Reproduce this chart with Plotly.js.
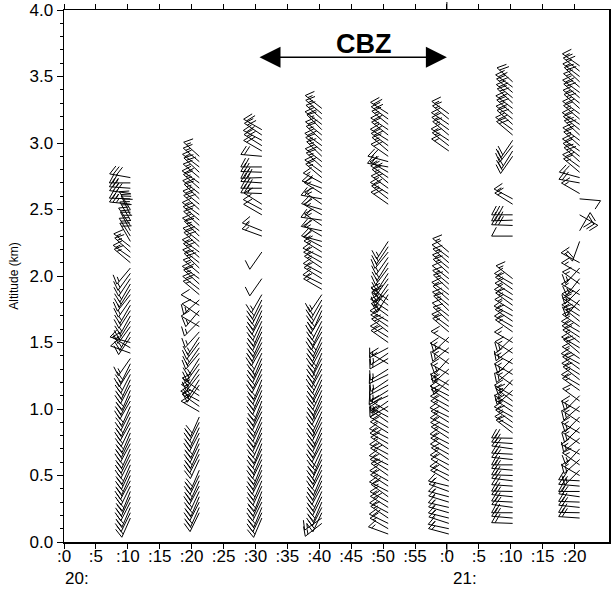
<!DOCTYPE html>
<html><head><meta charset="utf-8">
<script src="https://cdn.plot.ly/plotly-3.0.1.min.js"></script>
<style>html,body{margin:0;padding:0;background:#fff}</style>
</head><body><div id="chart" style="width:611px;height:590px"></div>
<script>
const _ = null;
// range gates (km)
const GATES = [0.06,0.10,0.14,0.18,0.22,0.26,0.30,0.34,0.38,0.42,
0.46,0.50,0.54,0.58,0.62,0.66,0.70,0.74,0.78,0.82,
0.86,0.90,0.94,0.98,1.02,1.06,1.10,1.14,1.18,1.22,
1.26,1.30,1.34,1.38,1.42,1.46,1.50,1.54,1.58,1.62,
1.66,1.70,1.74,1.78,1.82,1.86,1.90,1.94,1.98,2.02,
2.06,2.10,2.14,2.18,2.22,2.26,2.30,2.34,2.38,2.42,
2.46,2.50,2.54,2.58,2.62,2.66,2.70,2.74,2.78,2.82,
2.86,2.90,2.94,2.98,3.02,3.06,3.10,3.14,3.18,3.22,
3.26,3.30,3.34,3.38,3.42,3.46,3.50,3.54,3.58,3.62];
// profile times (minutes after 20:00)
const TIMES = [10.4, 21.2, 31.0, 40.4, 50.8, 60.3, 70.3, 80.8];

const DIR_1 = [_,_,_,204,206,203,207,205,202,206,
208,204,205,203,207,206,204,208,205,203,
206,209,205,207,204,210,206,203,208,205,
207,212,206,215,290,300,285,214,210,216,
212,209,213,210,215,218,212,210,214,216,
220,310,305,312,308,330,328,332,326,330,
334,328,276,272,278,274,270,280,_,_,
_,_,_,_,_,_,_,_,_,_,
_,_,_,_,_,_,_,_,_,_];
const SPD_1 = [_,_,_,20,20,20,20,20,20,20,
20,20,20,20,20,20,20,20,20,20,
20,20,20,15,20,20,20,20,20,20,
20,15,20,15,10,15,10,15,15,15,
15,15,15,15,15,15,15,15,15,15,
15,15,15,15,15,20,20,20,20,20,
20,20,25,25,30,25,25,30,_,_,
_,_,_,_,_,_,_,_,_,_,
_,_,_,_,_,_,_,_,_,_];

const DIR_2 = [_,_,_,_,206,204,207,203,205,208,
204,206,203,_,205,207,204,206,203,208,
205,207,204,300,305,298,302,306,215,212,
218,214,216,212,220,215,217,213,222,300,
225,305,220,300,228,310,308,312,306,310,
314,308,311,306,313,309,315,307,312,310,
306,312,309,314,308,311,305,310,313,307,
310,312,_,_,_,_,_,_,_,_,
_,_,_,_,_,_,_,_,_,_];
const SPD_2 = [_,_,_,_,20,20,20,20,20,20,
20,20,20,_,20,20,20,20,20,20,
20,20,20,15,15,15,15,15,15,15,
15,15,15,15,15,15,15,15,15,10,
15,10,15,10,15,15,20,15,20,15,
20,15,20,15,20,20,15,20,15,20,
15,20,20,15,20,15,20,15,20,15,
15,15,_,_,_,_,_,_,_,_,
_,_,_,_,_,_,_,_,_,_];

const DIR_3 = [_,_,_,203,205,202,206,204,201,205,
203,207,204,202,206,203,205,201,204,206,
202,205,203,207,204,201,206,203,205,202,
208,204,206,203,205,210,207,204,206,203,
205,208,204,207,206,210,_,_,215,_,
_,_,_,215,_,_,290,292,_,_,
300,298,302,_,272,270,274,268,272,270,
_,275,300,302,298,304,300,_,_,_,
_,_,_,_,_,_,_,_,_,_];
const SPD_3 = [_,_,_,20,20,20,20,20,20,20,
20,20,20,20,20,20,20,20,20,20,
20,20,20,20,20,20,20,20,20,20,
20,20,25,20,20,20,20,20,20,20,
20,20,20,20,15,15,_,_,10,_,
_,_,_,10,_,_,15,15,_,_,
10,10,10,_,25,30,25,30,25,20,
_,20,20,20,20,20,20,_,_,_,
_,_,_,_,_,_,_,_,_,_];

const DIR_4 = [_,_,232,235,205,207,203,206,204,208,
205,203,207,204,206,202,205,208,204,206,
203,207,205,204,208,206,203,205,207,204,
206,209,205,207,203,208,206,204,210,205,
207,212,204,208,210,214,300,296,302,298,
304,300,296,302,298,285,300,282,304,278,
300,286,305,280,302,290,298,310,306,312,
308,314,310,306,312,309,315,307,311,310,
308,_,_,_,_,_,_,_,_,_];
const SPD_4 = [_,_,15,15,20,20,20,20,20,20,
20,20,25,20,20,25,20,20,20,25,
20,25,20,20,25,20,20,25,20,20,
25,20,25,20,25,20,20,25,20,20,
20,20,20,20,20,15,15,15,15,15,
15,15,15,15,15,20,15,20,15,20,
15,20,15,20,15,20,15,15,20,15,
20,15,15,20,15,20,15,20,15,15,
15,_,_,_,_,_,_,_,_,_];

const DIR_5 = [290,300,296,304,298,302,300,306,297,303,
299,305,301,296,303,298,304,300,297,302,
300,305,298,302,240,235,245,238,242,236,
244,238,300,240,236,242,305,302,308,304,
300,306,303,309,305,212,218,214,216,213,
217,212,215,219,214,213,_,_,_,_,
_,_,305,308,302,306,310,304,300,280,
285,305,310,306,302,308,304,309,306,303,
_,_,_,_,_,_,_,_,_,_];
const SPD_5 = [15,15,20,15,15,20,15,15,20,15,
15,20,15,15,20,15,15,20,15,15,
20,15,15,20,15,15,15,15,15,15,
15,15,15,15,15,15,20,15,20,15,
20,15,20,15,20,15,15,15,15,15,
15,15,15,15,15,15,_,_,_,_,
_,_,20,15,20,20,15,20,15,20,
20,20,15,20,20,15,20,15,20,20,
_,_,_,_,_,_,_,_,_,_];

const DIR_6 = [285,282,288,284,286,283,287,285,290,284,
300,296,302,298,304,299,301,297,303,300,
298,302,296,301,299,303,297,302,300,225,
300,228,305,222,298,230,302,226,310,306,
312,308,314,309,311,306,313,310,308,312,
309,311,307,310,_,_,_,_,_,_,
_,_,_,_,_,_,_,_,_,_,
_,_,305,308,303,310,306,304,309,306,
_,_,_,_,_,_,_,_,_,_];
const SPD_6 = [15,15,15,15,15,15,15,15,15,15,
15,15,10,15,15,10,15,15,15,10,
15,15,10,15,15,15,10,15,15,15,
15,15,15,15,15,15,15,15,15,15,
15,10,15,15,10,15,15,15,10,15,
15,15,10,15,_,_,_,_,_,_,
_,_,_,_,_,_,_,_,_,_,
_,_,15,15,15,15,15,15,15,15,
_,_,_,_,_,_,_,_,_,_];

const DIR_7 = [_,_,272,275,270,278,273,276,271,274,
277,272,275,270,276,273,278,274,271,308,
302,306,299,304,301,307,300,228,305,222,
300,230,298,225,303,232,300,226,305,300,
304,298,302,306,300,303,305,300,308,_,
_,_,_,_,_,_,270,_,272,268,
270,_,302,298,_,_,_,_,_,_,
_,215,212,218,214,310,306,312,308,311,
307,313,309,310,306,312,_,_,_,_];
const SPD_7 = [_,_,20,20,20,20,20,20,20,20,
20,20,20,20,20,20,20,20,20,15,
15,15,15,15,15,15,15,15,15,15,
15,15,15,15,15,15,15,15,15,15,
15,15,15,15,15,15,15,15,15,_,
_,_,_,_,_,_,10,_,30,30,
30,_,15,15,_,_,_,_,_,_,
_,20,20,20,20,20,20,20,20,20,
20,20,20,20,20,20,_,_,_,_];

const DIR_8 = [_,_,_,274,271,276,272,278,270,275,
273,300,225,305,228,298,222,303,230,300,
226,304,224,300,229,306,225,305,300,308,
302,306,299,304,310,301,307,303,300,305,
309,302,306,303,220,300,225,305,218,300,
222,298,_,_,_,200,_,30,_,_,
120,_,_,95,300,_,280,285,310,306,
312,308,305,311,307,313,309,304,310,306,
312,308,311,306,310,313,307,309,305,_];
const SPD_8 = [_,_,_,20,20,20,20,20,20,20,
20,15,15,15,15,15,15,15,15,15,
15,15,15,15,15,15,15,15,15,15,
15,20,15,15,20,15,15,20,15,15,
20,15,15,20,15,15,15,15,15,15,
15,15,_,_,_,20,_,20,_,_,
30,_,_,10,15,_,20,20,15,20,
20,15,20,15,20,20,15,20,15,20,
20,15,20,20,15,20,15,20,15,_];

const DIRS = [DIR_1, DIR_2, DIR_3, DIR_4, DIR_5, DIR_6, DIR_7, DIR_8];
const SPDS = [SPD_1, SPD_2, SPD_3, SPD_4, SPD_5, SPD_6, SPD_7, SPD_8];

const X_TICK_VALS = [0,5,10,15,20,25,30,35,40,45,50,55,60,65,70,75,80];
const X_TICK_TEXT = [":0",":5",":10",":15",":20",":25",":30",":35",":40",":45",":50",":55",":0",":5",":10",":15",":20"];
const HOUR_VALS = [0, 60];
const HOUR_TEXT = ["20:", "21:"];
const CBZ_START = 30.4, CBZ_END = 60.0, CBZ_ALT = 3.645;
const CBZ_LABEL = {x: 47.0, y: 3.745, text: "CBZ"};

// geometry / style
const W = 611, H = 590;
const M = {l:64, r:2, t:10, b:48};
const XR = [0, 85.4], YR = [0, 4];
const PW = W - M.l - M.r, PH = H - M.t - M.b;
const KX = (XR[1]-XR[0])/PW, KY = (YR[1]-YR[0])/PH;
const STAFF = 21, FEATH = 10, GAP = 3.4, FANG = 118;

const bx = [], by = [];
function seg(t, a, x0, y0, x1, y1) {
  bx.push(t + x0*KX, t + x1*KX, null);
  by.push(a + y0*KY, a + y1*KY, null);
}
function barb(t, a, dir, spd) {
  const r = dir*Math.PI/180, f = (dir+FANG)*Math.PI/180;
  const ux = Math.sin(r), uy = Math.cos(r);
  const fx = Math.sin(f), fy = Math.cos(f);
  const tx = STAFF*ux, ty = STAFF*uy;
  seg(t, a, 0, 0, tx, ty);
  const n = Math.floor((spd + 2) / 10);
  const half = ((spd + 2) % 10) >= 5;
  let k = 0;
  for (; k < n; k++) {
    const px = tx - k*GAP*ux, py = ty - k*GAP*uy;
    seg(t, a, px, py, px + FEATH*fx, py + FEATH*fy);
  }
  if (half) {
    const kk = (n === 0) ? 1 : k;
    const px = tx - kk*GAP*ux, py = ty - kk*GAP*uy;
    seg(t, a, px, py, px + 0.5*FEATH*fx, py + 0.5*FEATH*fy);
  }
}
TIMES.forEach((t, c) => {
  GATES.forEach((g, i) => {
    const d = DIRS[c][i], s = SPDS[c][i];
    if (d !== null && s !== null) barb(t, g, d, s);
  });
});

const traces = [{
  type:'scatter', mode:'lines', x:bx, y:by, connectgaps:false,
  line:{color:'#000', width:1}, hoverinfo:'skip'
}];

const FONT = 'Liberation Sans, Arial, sans-serif';
const tickFont = {family:FONT, size:17, color:'#000'};
const annotations = [
  {x:CBZ_LABEL.x, y:CBZ_LABEL.y, xref:'x', yref:'y', text:'<b>'+CBZ_LABEL.text+'</b>', showarrow:false,
   font:{family:FONT, size:27, color:'#000'}},
  {x:CBZ_END, y:CBZ_ALT, ax:CBZ_START, ay:CBZ_ALT, xref:'x', yref:'y', axref:'x', ayref:'y',
   text:'', showarrow:true, arrowside:'end+start', arrowhead:2, startarrowhead:2,
   arrowsize:3, startarrowsize:3, arrowwidth:1.4, arrowcolor:'#000', standoff:0, startstandoff:0}
];
HOUR_VALS.forEach((v, i) => annotations.push({
  x:v, y:0, xref:'x', yref:'paper', xanchor:'left', yanchor:'top', xshift:(i === 0 ? -1 : 4), yshift:-25,
  text:HOUR_TEXT[i], showarrow:false, font:tickFont
}));

const layout = {
  width:W, height:H, margin:{l:M.l, r:M.r, t:M.t, b:M.b, pad:0},
  paper_bgcolor:'#fff', plot_bgcolor:'#fff', showlegend:false,
  font:{family:FONT, size:15, color:'#000'},
  xaxis:{range:XR, tickmode:'array', tickvals:X_TICK_VALS, ticktext:X_TICK_TEXT,
    ticks:'outside', ticklen:5, tickwidth:1, tickcolor:'#000', tickfont:tickFont, ticklabelstandoff:-7,
    showline:true, linewidth:1.5, linecolor:'#000', mirror:'ticks',
    showgrid:false, zeroline:false, fixedrange:true},
  yaxis:{range:YR, tickmode:'linear', tick0:0, dtick:0.5, tickformat:'.1f',
    ticks:'outside', ticklen:6, tickwidth:1, tickcolor:'#000', tickfont:tickFont,
    minor:{tickmode:'linear', tick0:0, dtick:0.1, ticks:'outside', ticklen:3, tickcolor:'#000', showgrid:false},
    showline:true, linewidth:1.5, linecolor:'#000', mirror:'ticks',
    showgrid:false, zeroline:false, fixedrange:true,
    title:{text:'Altitude (km)', font:{family:FONT, size:12, color:'#000'}, standoff:8}},
  shapes:[
    {type:'line', xref:'x', yref:'paper', x0:60, x1:60, y0:0, y1:-12/PH, line:{color:'#000', width:1}},
    {type:'line', xref:'x', yref:'paper', x0:60, x1:60, y0:1, y1:1+8/PH, line:{color:'#000', width:1}}
  ],
  annotations:annotations
};
Plotly.newPlot('chart', traces, layout, {staticPlot:true, displayModeBar:false});
</script>
</body></html>
